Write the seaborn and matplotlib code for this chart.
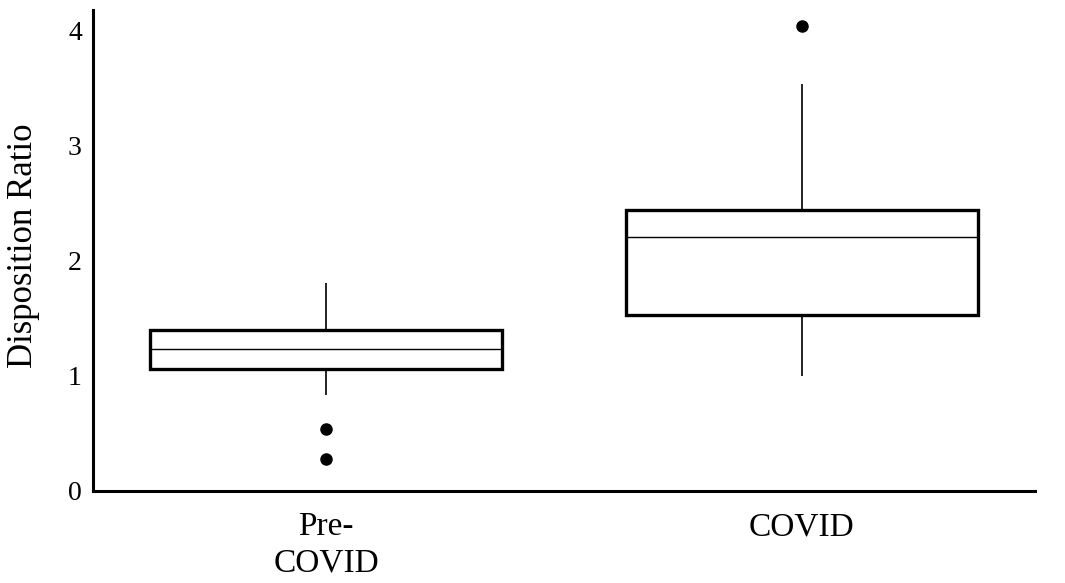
import numpy as np
import pandas as pd
import matplotlib
matplotlib.use("Agg")
import matplotlib.pyplot as plt
import seaborn as sns

categories = ["Pre-\nCOVID", "COVID"]
pre_covid = [0.28, 0.54, 0.83, 1.06, 1.12, 1.18, 1.235, 1.28, 1.33, 1.40, 1.52, 1.65, 1.81]
covid = [1.00, 1.25, 1.40, 1.53, 1.80, 2.05, 2.21, 2.30, 2.38, 2.44, 2.80, 3.54, 4.04]
y_ticks = [0, 1, 2, 3, 4]

df = pd.DataFrame({
    "period": [categories[0]] * len(pre_covid) + [categories[1]] * len(covid),
    "ratio": pre_covid + covid,
})

sns.set_style("white")
plt.rcParams["font.family"] = ["Liberation Serif", "DejaVu Serif"]
plt.rcParams["text.color"] = "black"
plt.rcParams["axes.labelcolor"] = "black"
plt.rcParams["xtick.color"] = "black"
plt.rcParams["ytick.color"] = "black"

fig = plt.figure(figsize=(10.65, 5.83), dpi=100)
ax = fig.add_axes([0.0873, 0.158, 0.8845, 0.825])

sns.boxplot(
    data=df, x="period", y="ratio", order=categories, ax=ax,
    width=0.74, whis=1.4, showcaps=False,
    boxprops=dict(facecolor="white", edgecolor="black", linewidth=2.4),
    medianprops=dict(color="black", linewidth=1.0),
    whiskerprops=dict(color="black", linewidth=1.2),
    flierprops=dict(marker="o", markerfacecolor="black", markeredgecolor="black", markersize=8),
)

ax.set_ylim(0, 4.18)
ax.set_xlim(-0.49, 1.49)
ax.set_yticks(y_ticks)
ax.set_xlabel("")
ax.set_ylabel("Disposition Ratio", fontsize=25)
ax.yaxis.set_label_coords(-0.056, 0.51)
ax.tick_params(axis="y", length=0, pad=8, labelsize=20, labelcolor="black")
ax.tick_params(axis="x", length=0, pad=15, labelsize=24, labelcolor="black")
for lbl in ax.get_xticklabels():
    lbl.set_linespacing(1.25)

sns.despine(ax=ax)
for side in ["left", "bottom"]:
    ax.spines[side].set_linewidth(2.2)
    ax.spines[side].set_color("black")

fig.savefig("out.png", dpi=100)
